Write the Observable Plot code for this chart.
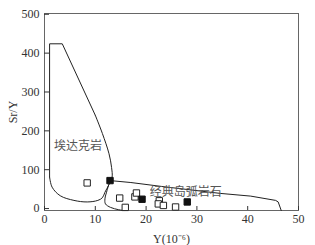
<!DOCTYPE html>
<html>
<head>
<meta charset="utf-8">
<script src="https://cdn.jsdelivr.net/npm/d3@7"></script>
<script src="https://cdn.jsdelivr.net/npm/@observablehq/plot@0.6"></script>
<style>
  html, body { margin: 0; padding: 0; background: #fff; }
</style>
</head>
<body>
<div id="chart"></div>
<script>
// Tick labels
const xTicks = [0, 10, 20, 30, 40, 50];
const yTicks = [0, 100, 200, 300, 400, 500];

// Sample points: open squares
const openY_ = [8.4, 14.8, 15.9, 17.8, 18.1, 22.6, 22.4, 23.4, 25.8];
const openSrY = [66, 27, 3, 30, 40, 20, 12, 8, 4];
// Sample points: filled squares
const filledY_ = [12.9, 19.2, 28.1];
const filledSrY = [72, 24, 17];

// Adakite field boundary (straight part)
const adakiteStraightX = [1, 1, 3.5, 10];
const adakiteStraightY = [81, 424, 424, 240];
// Adakite field boundary (curved part)
const adakiteCurveX = [10, 11.4, 12.7, 13.2, 13.3, 12.7, 11.9, 11.4, 10.5, 8.4, 5.8, 3.1, 1.5, 1];
const adakiteCurveY = [240, 193, 141, 106, 80, 62, 42, 28, 21, 17, 21, 33, 55, 81];

// Classic island-arc field boundary (straight part)
const arcStraightX = [12.9, 17, 23, 34.6, 40.6, 45.5, 46, 46.6];
const arcStraightY = [72, 67, 57, 39, 32, 21, 17, -5];
// Classic island-arc field boundary (curved part)
const arcCurveX = [12.9, 12.3, 11.9, 12.0, 13.0, 14.6, 15.6];
const arcCurveY = [72, 46, 25, 12, 3, -3, -5];

// Field labels
const fieldNames = ["埃达克岩", "经典岛弧岩石"];
const fieldX = [6.6, 27.8];
const fieldY = [160, 42];

const zip = (xs, ys) => xs.map((x, i) => ({x, y: ys[i]}));

const chart = Plot.plot({
  width: 315,
  height: 245,
  marginLeft: 44,
  marginRight: 17,
  marginTop: 13,
  marginBottom: 35,
  style: {fontFamily: "'Liberation Serif', serif", fontSize: "12px", color: "#333", background: "#fff"},
  x: {domain: [0, 50], ticks: xTicks},
  y: {domain: [-5, 502], ticks: yTicks},
  marks: [
    Plot.frame({stroke: "#666"}),
    Plot.axisX({ticks: xTicks, tickSize: -4, tickPadding: 8, fontSize: 12,
      label: "Y(10⁻⁶)", labelAnchor: "center", labelArrow: "none", labelOffset: 32}),
    Plot.axisY({ticks: yTicks, tickSize: -5, tickPadding: 10, fontSize: 12,
      label: "Sr/Y", labelAnchor: "center", labelArrow: "none", labelOffset: 36}),
    Plot.line(zip(adakiteStraightX, adakiteStraightY), {x: "x", y: "y", stroke: "#222", strokeWidth: 1}),
    Plot.line(zip(adakiteCurveX, adakiteCurveY), {x: "x", y: "y", stroke: "#222", strokeWidth: 1, curve: "catmull-rom"}),
    Plot.line(zip(arcStraightX, arcStraightY), {x: "x", y: "y", stroke: "#222", strokeWidth: 1}),
    Plot.line(zip(arcCurveX, arcCurveY), {x: "x", y: "y", stroke: "#222", strokeWidth: 1, curve: "catmull-rom"}),
    Plot.text(fieldNames, {x: (d, i) => fieldX[i], y: (d, i) => fieldY[i], text: d => d,
      fontFamily: "'Noto Sans CJK SC', sans-serif", fontSize: 12, fill: "#555"}),
    Plot.dot(zip(openY_, openSrY), {x: "x", y: "y", symbol: "square", r: 3.6, fill: "#fff", stroke: "#222", strokeWidth: 1}),
    Plot.dot(zip(filledY_, filledSrY), {x: "x", y: "y", symbol: "square", r: 3.6, fill: "#111", stroke: "#111", strokeWidth: 1})
  ]
});
document.getElementById("chart").appendChild(chart);
</script>
</body>
</html>
